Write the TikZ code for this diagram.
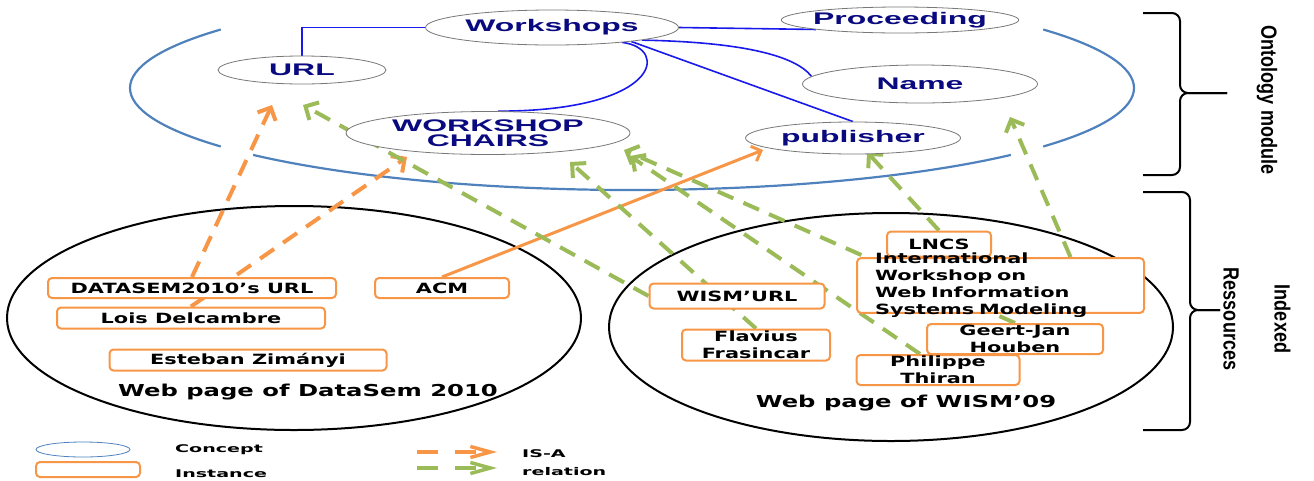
\documentclass[tikz,border=0pt]{standalone}
\usepackage{fontspec}
\usepackage{tikz}
\usetikzlibrary{arrows.meta}
\usetikzlibrary{shapes.geometric}
\usetikzlibrary{calc}
\usetikzlibrary{backgrounds}
\newfontfamily\cptfam{Liberation Sans}[FakeStretch=1.9]
\newfontfamily\insfam{DejaVu Sans}[FakeStretch=1.48]
\newfontfamily\lgdfam{DejaVu Sans}[FakeStretch=1.8]
\newfontfamily\bracefam{Liberation Sans}[FakeStretch=0.82]
\definecolor{navytext}{RGB}{10,10,128}
\definecolor{ontoblue}{RGB}{79,129,189}
\definecolor{linkblue}{RGB}{25,25,235}
\definecolor{isaorange}{RGB}{247,150,70}
\definecolor{isagreen}{RGB}{155,187,89}
\definecolor{cptgray}{RGB}{120,120,120}
\tikzset{
  concept/.style={ellipse, draw=cptgray, line width=0.8, fill=white, inner sep=0pt, text=navytext, align=center, font=\cptfam\bfseries\fontsize{16.8}{18}\selectfont},
  instance/.style={rectangle, rounded corners=4pt, draw=isaorange, line width=2, fill=white, inner sep=0pt, align=center, font=\insfam\bfseries\fontsize{14.1}{17}\selectfont},
  pagelabel/.style={inner sep=0pt, font=\insfam\bfseries\fontsize{16.4}{18}\selectfont},
  lgdtext/.style={inner sep=0pt, anchor=base west, font=\lgdfam\bfseries\fontsize{10.6}{12}\selectfont},
  bracelabel/.style={inner sep=0pt, rotate=-90, align=center, font=\bracefam\bfseries\fontsize{22}{51}\selectfont},
  isatip/.style={-{Straight Barb[length=10pt,width=20pt]}},
  isaline/.style={isatip, line width=4, dash pattern=on 17pt off 11pt},
  link/.style={draw=linkblue, line width=1.6},
  ontoline/.style={draw=ontoblue, line width=2.2},
  pageline/.style={draw=black, line width=2},
  braceline/.style={draw=black, line width=2, rounded corners=8pt},
}
\begin{document}
\begin{tikzpicture}[x=1pt, y=-1pt]
  \useasboundingbox (0,0) rectangle (1314,480);

  % ontology concepts
  \node[concept, minimum width=253pt, minimum height=35pt] (work) at (552,27.5) {Workshops};
  \node[concept, minimum width=237pt, minimum height=26pt, inner xsep=-3pt] (proc) at (900,20) {Proceeding};
  \node[concept, minimum width=168pt, minimum height=28pt] (url) at (302,70) {URL};
  \node[concept, minimum width=235pt, minimum height=38pt] (name) at (920,84) {Name};
  \node[concept, minimum width=284pt, minimum height=43pt] (chairs) at (488,133) {WORKSHOP\\[-3pt]CHAIRS};
  \node[concept, minimum width=215pt, minimum height=32pt] (pub) at (853,138) {publisher};

  % instances of DataSem 2010
  \node[instance, minimum width=288pt, minimum height=20pt] (dsurl) at (192,288) {DATASEM2010’s URL};
  \node[instance, minimum width=134pt, minimum height=20pt] (acm) at (442,288) {ACM};
  \node[instance, minimum width=268pt, minimum height=21pt] (lois) at (191,318) {Lois Delcambre};
  \node[instance, minimum width=277pt, minimum height=21pt] (esteban) at (248,360) {Esteban Zimányi};
  \node[pagelabel] (dslabel) at (308,392) {Web page of DataSem 2010};

  % instances of WISM'09
  \node[instance, minimum width=104pt, minimum height=25pt] (lncs) at (939,244) {LNCS};
  \node[instance, text width=251pt, inner xsep=18pt, inner ysep=-5pt, align=left] (iwism) at (1000.5,285.5) {International\\Workshop on\\Web Information\\Systems Modeling};
  \node[instance, minimum width=175pt, minimum height=25pt] (wurl) at (737,296) {WISM’URL};
  \node[instance, minimum width=148pt, minimum height=31pt] (flav) at (756,345) {Flavius\\Frasincar};
  \node[instance, minimum width=176pt, minimum height=30pt] (geert) at (1015,339) {Geert-Jan\\Houben};
  \node[instance, minimum width=163pt, minimum height=30pt] (phil) at (938,370) {Philippe\\Thiran};
  \node[pagelabel] (wislabel) at (906,403) {Web page of WISM’09};

  % braces
  \node[bracelabel] (ontolabel) at (1267,100) {Ontology module};
  \node[bracelabel] (reslabel) at (1257,319) {Indexed\\Ressources};

  % legend
  \node[ellipse, draw=ontoblue, line width=0.8, inner sep=0pt, minimum width=94pt, minimum height=15pt] (lgcpt) at (83,449.5) {};
  \node[instance, minimum width=104pt, minimum height=15pt] (lginst) at (88,469.5) {};
  \node[lgdtext] (lgc) at (175,452) {Concept};
  \node[lgdtext] (lgi) at (175,477) {Instance};
  \node[lgdtext] (lgisa) at (522,457) {IS-A};
  \node[lgdtext] (lgrel) at (522,475) {relation};
  \coordinate (lgoA) at (417,452);
  \coordinate (lgoB) at (497,452);
  \coordinate (lggA) at (417,468);
  \coordinate (lggB) at (497,468);

  % arrow ends
  \coordinate (urltipA) at (272,105);
  \coordinate (urltipB) at (303,105);
  \coordinate (chairstipA) at (407,157);
  \coordinate (chairstipB) at (570,162);
  \coordinate (chairstipC) at (624,150);
  \coordinate (chairstipD) at (630,156);
  \coordinate (pubtipA) at (763,150);
  \coordinate (pubtipB) at (867,152);
  \coordinate (nametip) at (1010,117);

  \begin{scope}[on background layer]
    % ontology module outline
    \draw[ontoline] (632,88) ++(145:502 and 102) arc[start angle=145, end angle=215, x radius=502, y radius=102];
    \draw[ontoline] (632,88) ++(41:502 and 102) arc[start angle=41, end angle=139, x radius=502, y radius=102];
    \draw[ontoline] (632,88) ++(-35:502 and 102) arc[start angle=-35, end angle=35, x radius=502, y radius=102];
    % web pages
    \draw[pageline] (294,318) ellipse [x radius=287, y radius=112];
    \draw[pageline] (891,327) ellipse [x radius=282, y radius=114];
    % ontology links
    \draw[link] (url.north) |- (work.west);
    \draw[link] (work.east) -- (proc.south west);
    \draw[link] (work.-12) .. controls (670,48) and (660,111) .. (chairs.65);
    \draw[link] (work.-8) .. controls (740,42) and (795,55) .. (name.176);
    \draw[link] (work.-10) -- (pub.north);
    % IS-A relations
    \draw[isaline, draw=isaorange] (dsurl.north) -- (urltipA);
    \draw[isaline, draw=isaorange] (lois.north) -- (chairstipA);
    \draw[-{Straight Barb[length=8pt,width=16pt]}, draw=isaorange, line width=3] (acm.north) -- (pubtipA);
    \draw[isaline, draw=isagreen] (wurl.west) -- (urltipB);
    \draw[isaline, draw=isagreen] (flav.north) -- (chairstipB);
    \draw[isaline, draw=isagreen] (geert.north) -- (chairstipC);
    \draw[isaline, draw=isagreen] ($(phil.north)+(-18,0)$) -- (chairstipD);
    \draw[isaline, draw=isagreen] (lncs.north) -- (pubtipB);
    \draw[isaline, draw=isagreen] ($(iwism.north)+(70,0)$) -- (nametip);
    % braces
    \draw[braceline] (1143,13) -- (1180,13) -- (1180,93) -- (1227,93);
    \draw[braceline] (1143,175) -- (1180,175) -- (1180,93) -- (1227,93);
    \draw[braceline] (1143,192) -- (1190,192) -- (1190,310) -- (1220,310);
    \draw[braceline] (1143,430) -- (1190,430) -- (1190,310) -- (1220,310);
    % legend arrows
    \draw[-{Straight Barb[length=20pt,width=11pt]}, line width=3.5, dash pattern=on 21pt off 17pt, draw=isaorange] (lgoA) -- (lgoB);
    \draw[-{Straight Barb[length=20pt,width=11pt]}, line width=3.5, dash pattern=on 21pt off 17pt, draw=isagreen] (lggA) -- (lggB);
  \end{scope}
\end{tikzpicture}
\end{document}
